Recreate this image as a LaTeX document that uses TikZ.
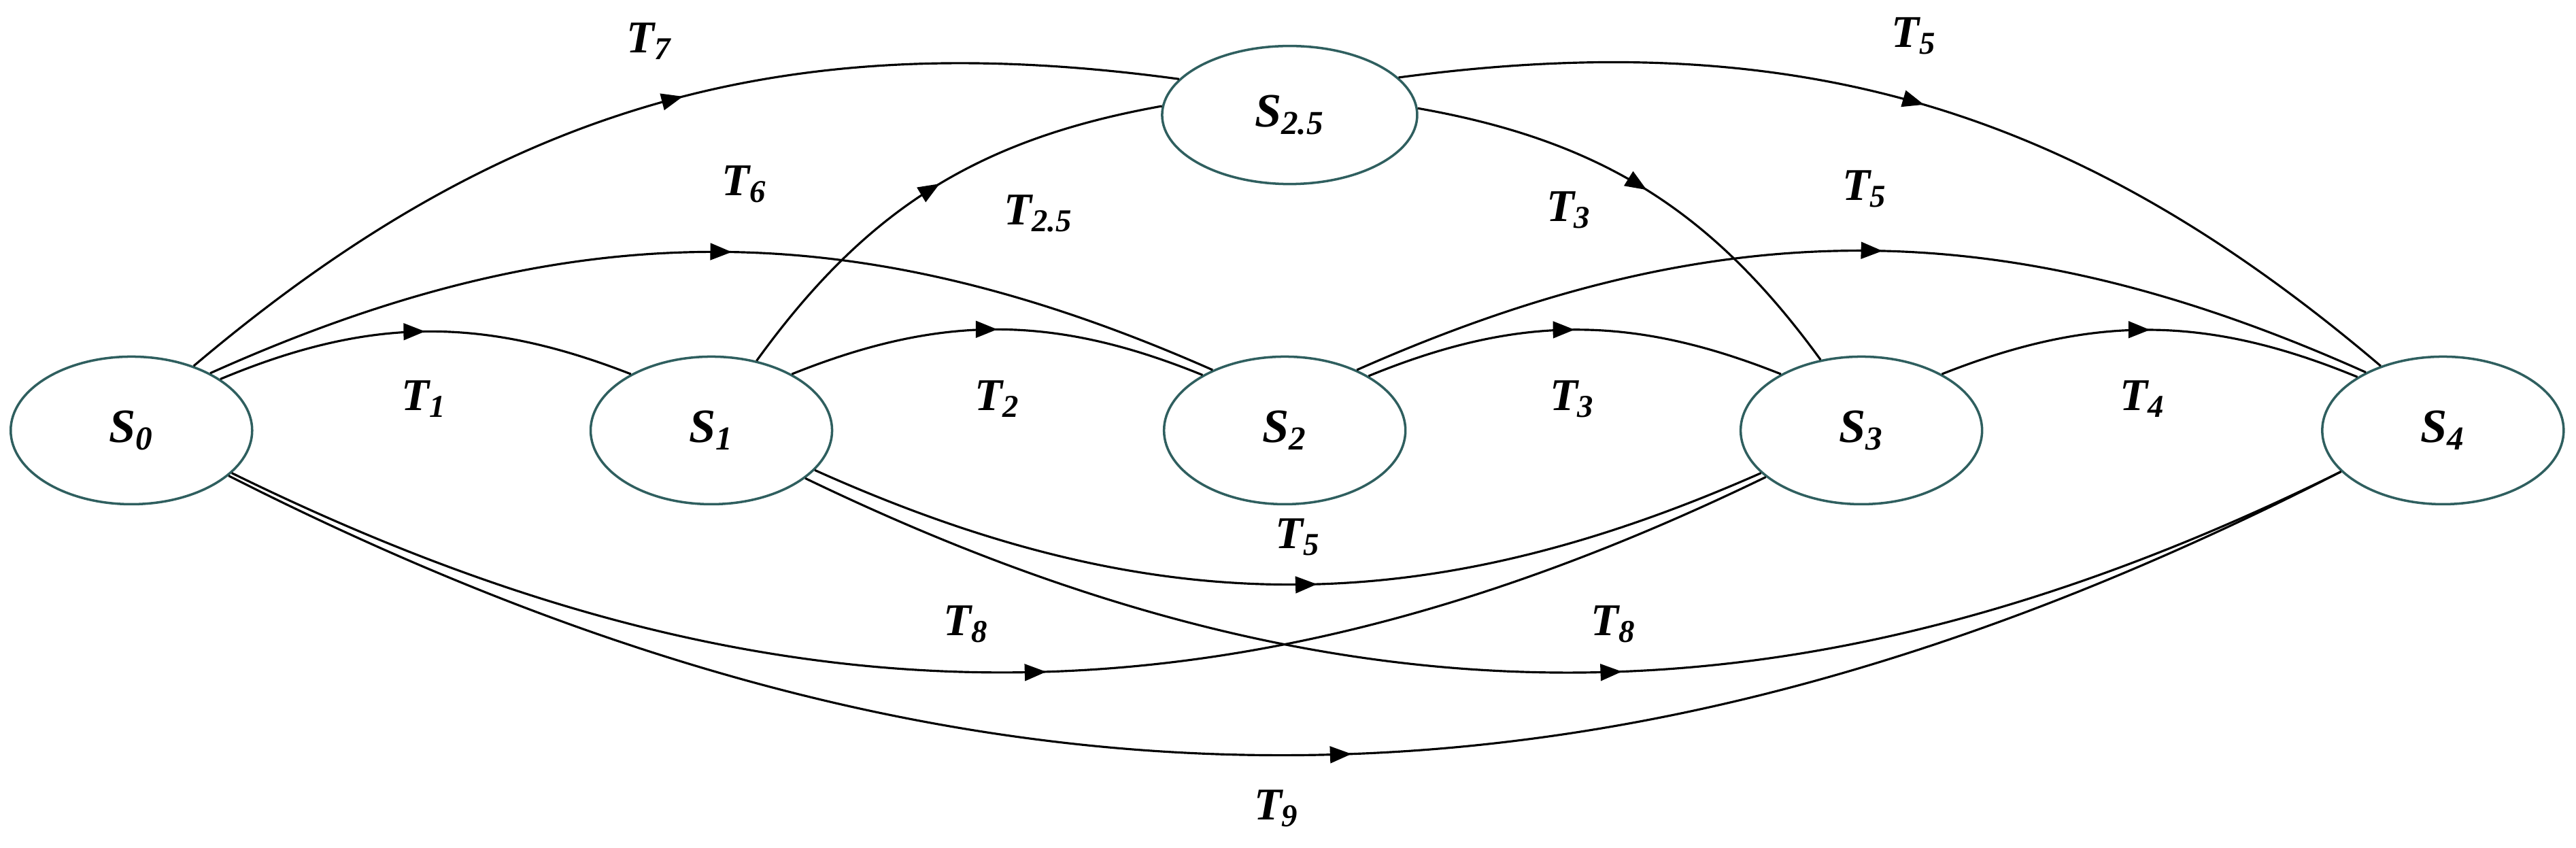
\documentclass[tikz,border=0pt]{standalone}
\usepackage{fontspec}
\setmainfont{Liberation Serif}
\usetikzlibrary{shapes.geometric,decorations.markings,arrows.meta}
\definecolor{edge}{HTML}{2F5F5F}
\newcommand{\lb}[2]{\textbf{\textit{#1\textsubscript{#2}}}}
\begin{document}
\begin{tikzpicture}[x=0.02416cm,y=-0.02416cm,
  st/.style={ellipse,draw=edge,line width=1pt,fill=white,minimum width=3.55cm,minimum height=2.17cm,inner sep=0pt,font=\fontsize{20}{22}\selectfont},
  tl/.style={font=\fontsize{19}{21}\selectfont},
  tr/.style={line width=0.9pt,decoration={markings,mark=at position #1 with {\arrow{Triangle[length=9pt,width=7pt]}}},postaction={decorate}},
  tr/.default=0.5]
\useasboundingbox (0,0) rectangle (1568,516);
\node[st] (S0) at (80,262) {\lb{S}{0}};
\node[st] (S1) at (433,262) {\lb{S}{1}};
\node[st] (S2) at (782,262) {\lb{S}{2}};
\node[st] (S3) at (1133,262) {\lb{S}{3}};
\node[st] (S4) at (1487,262) {\lb{S}{4}};
\node[st,minimum width=3.75cm,minimum height=2.03cm] (S25) at (785,70) {\lb{S}{2.5}};
\draw[tr=0.53] (S0.46) to[bend left=24] (S25.162);
\draw[tr] (S25.19) to[bend left=24] (S4.134);
\draw[tr=0.52] (S1.57) to[bend left=22] (S25.176);
\draw[tr] (S25.3) to[bend left=22] (S3.120);
\draw[tr=0.52] (S0.36) to[bend left=24] (S2.140);
\draw[tr=0.52] (S2.40) to[bend left=24] (S4.143);
\draw[tr] (S0.30) to[bend left=22] (S1.145);
\draw[tr] (S1.35) to[bend left=22] (S2.146);
\draw[tr] (S2.33) to[bend left=22] (S3.145);
\draw[tr] (S3.35) to[bend left=22] (S4.148);
\draw[tr=0.53] (S1.-21) to[bend right=24] (S3.203);
\draw[tr=0.53] (S0.-23) to[bend right=26] (S3.206);
\draw[tr=0.53] (S1.-27) to[bend right=26] (S4.202);
\draw[tr=0.53] (S0.-25) to[bend right=27] (S4.202);
\node[tl] (l7) at (395,25) {\lb{T}{7}};
\node[tl] (l5a) at (1165,22) {\lb{T}{5}};
\node[tl] (l6) at (453,112) {\lb{T}{6}};
\node[tl] (l25) at (632,130) {\lb{T}{2.5}};
\node[tl] (l3a) at (955,128) {\lb{T}{3}};
\node[tl] (l5b) at (1135,115) {\lb{T}{5}};
\node[tl] (l1) at (258,243) {\lb{T}{1}};
\node[tl] (l2) at (607,243) {\lb{T}{2}};
\node[tl] (l3) at (957,243) {\lb{T}{3}};
\node[tl] (l4) at (1304,243) {\lb{T}{4}};
\node[tl] (l5c) at (790,327) {\lb{T}{5}};
\node[tl] (l8a) at (588,380) {\lb{T}{8}};
\node[tl] (l8b) at (982,380) {\lb{T}{8}};
\node[tl] (l9) at (777,492) {\lb{T}{9}};
\end{tikzpicture}
\end{document}
